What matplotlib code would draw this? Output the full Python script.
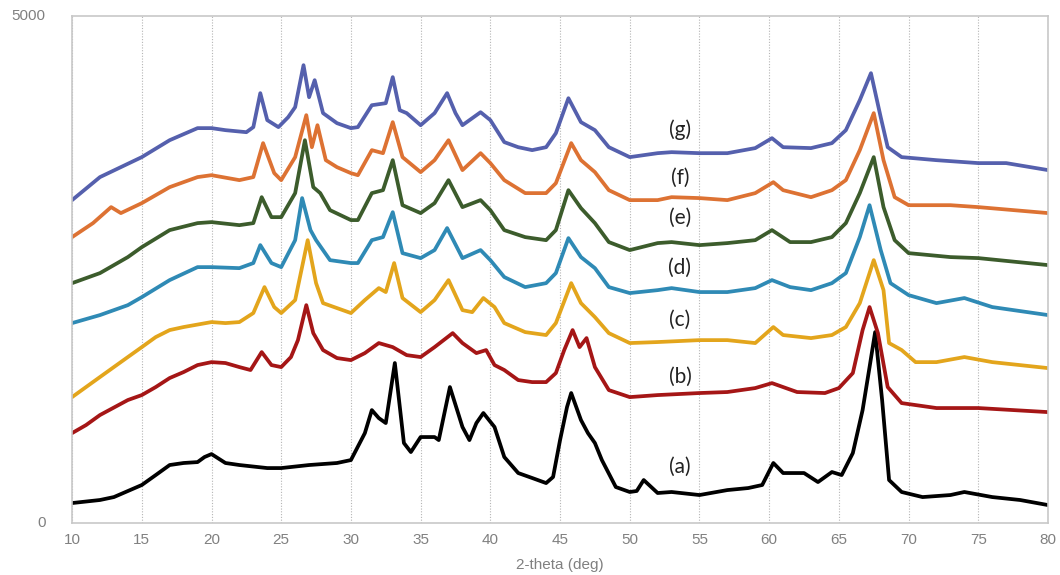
import numpy as np
import matplotlib
matplotlib.use("Agg")
import matplotlib.pyplot as plt

plt.rcParams['font.family'] = ['Liberation Sans', 'DejaVu Sans']

## Values (2-theta in deg, intensity in counts)

x_a = [10, 12, 13, 15, 16, 17, 18, 19, 19.5, 20, 21, 22, 24, 25, 27, 29, 30, 31, 31.5, 32, 32.5, 33.15,
       33.8, 34.3, 35, 36, 36.3, 37.1, 38, 38.5, 39, 39.5, 40.3, 41, 42, 43, 44, 44.5, 45, 45.5, 45.8,
       46.5, 47, 47.5, 48, 49, 50, 50.5, 51, 52, 53, 55, 57, 58.5, 59.5, 60.3, 61, 62.5, 63.5, 64.5,
       65.2, 66, 66.7, 67.2, 67.6, 68.1, 68.6, 69.5, 71, 73, 74, 76, 78, 80]
y_a = [197, 227, 256, 375, 473, 572, 592, 601, 651, 680, 592, 572, 542, 542, 572, 592, 621, 887, 1114,
       1035, 986, 1578, 789, 700, 848, 848, 818, 1341, 947, 818, 986, 1085, 947, 651, 493, 444, 394, 454,
       818, 1144, 1282, 1016, 887, 789, 621, 355, 306, 316, 424, 296, 306, 276, 325, 345, 375, 592, 493,
       493, 404, 503, 473, 690, 1114, 1538, 1883, 1213, 424, 306, 256, 276, 306, 256, 227, 177]

x_b = [10, 11, 12, 14, 15, 16, 17, 18, 19, 20, 21, 22, 22.8, 23.6, 24.3, 25, 25.7, 26.2, 26.8, 27.3, 28,
       29, 30, 31, 32, 33, 34, 35, 36, 37.3, 38, 39, 39.7, 40.3, 41, 42, 43, 44, 44.7, 45.3, 45.9, 46.4,
       46.9, 47.5, 48.5, 50, 52, 55, 57, 59, 60.2, 62, 64, 65, 66, 66.7, 67.2, 67.8, 68.5, 69.5, 72, 75, 80]
y_b = [887, 966, 1065, 1213, 1262, 1341, 1430, 1489, 1558, 1587, 1578, 1538, 1509, 1686, 1558, 1538,
       1637, 1804, 2149, 1873, 1706, 1627, 1607, 1676, 1775, 1735, 1656, 1637, 1735, 1873, 1775, 1676,
       1706, 1558, 1509, 1410, 1390, 1390, 1479, 1706, 1903, 1735, 1824, 1538, 1311, 1242, 1262, 1282,
       1292, 1331, 1380, 1292, 1282, 1331, 1479, 1903, 2130, 1873, 1341, 1183, 1134, 1134, 1094]

x_c = [10, 12, 14, 15, 16, 17, 18, 20, 21, 22, 23, 23.8, 24.5, 25, 26, 26.9, 27.5, 28, 29, 30, 31, 32,
       32.5, 33.1, 33.7, 35, 36, 37, 38, 38.7, 39.5, 40.3, 41, 42.5, 44, 44.7, 45.8, 46.5, 47.5, 48.5, 50,
       52, 55, 57, 59, 60.3, 61, 63, 64.5, 65.5, 66.5, 67.5, 68.2, 68.6, 69.5, 70.5, 72, 74, 76, 80]
y_c = [1242, 1440, 1637, 1735, 1834, 1903, 1933, 1982, 1972, 1982, 2071, 2327, 2130, 2071, 2199, 2790,
       2366, 2169, 2120, 2071, 2199, 2317, 2278, 2564, 2219, 2080, 2199, 2396, 2100, 2080, 2219, 2130,
       1972, 1883, 1854, 1972, 2366, 2169, 2031, 1873, 1775, 1785, 1804, 1804, 1775, 1933, 1854, 1824,
       1854, 1933, 2169, 2593, 2297, 1775, 1706, 1587, 1587, 1637, 1587, 1528]

x_d = [10, 12, 14, 15, 17, 19, 20, 22, 23, 23.5, 24.3, 25, 26, 26.5, 27.1, 27.5, 28.5, 30, 30.5, 31.5,
       32.3, 33, 33.7, 35, 36, 36.9, 38, 39.3, 40, 41, 42.5, 44, 44.7, 45.6, 46.5, 47.5, 48.5, 50, 52, 53,
       55, 57, 59, 60.2, 61.5, 63, 64.5, 65.5, 66.5, 67.2, 68, 68.7, 70, 72, 74, 76, 80]
y_d = [1972, 2051, 2149, 2228, 2396, 2524, 2524, 2514, 2564, 2741, 2564, 2524, 2790, 3205, 2889, 2790,
       2593, 2564, 2564, 2790, 2820, 3066, 2662, 2613, 2692, 2909, 2613, 2692, 2593, 2426, 2327, 2366,
       2465, 2810, 2623, 2514, 2327, 2268, 2297, 2317, 2278, 2278, 2317, 2396, 2327, 2297, 2366, 2465,
       2820, 3135, 2692, 2366, 2248, 2169, 2219, 2130, 2051]

x_e = [10, 12, 14, 15, 17, 19, 20, 22, 23, 23.6, 24.3, 25, 26, 26.7, 27.3, 27.8, 28.5, 30, 30.5, 31.5,
       32.3, 33, 33.7, 35, 36, 37, 38, 39.3, 40, 41, 42.5, 44, 44.7, 45.6, 46.5, 47.5, 48.5, 50, 52, 53,
       55, 57, 59, 60.2, 61.5, 63, 64.5, 65.5, 66.5, 67.5, 68.2, 69, 70, 73, 75, 80]
y_e = [2366, 2465, 2623, 2721, 2889, 2958, 2968, 2938, 2958, 3214, 3017, 3017, 3254, 3776, 3313, 3254,
       3086, 2988, 2988, 3254, 3283, 3579, 3135, 3057, 3155, 3382, 3116, 3185, 3086, 2889, 2820, 2790,
       2889, 3283, 3106, 2958, 2771, 2692, 2761, 2771, 2741, 2761, 2790, 2889, 2771, 2771, 2820, 2958,
       3254, 3609, 3116, 2790, 2662, 2623, 2613, 2544]

x_f = [10, 11.5, 12.8, 13.5, 15, 17, 19, 20, 22, 23, 23.7, 24.5, 25, 26, 26.8, 27.2, 27.6, 28.2, 29, 30,
       30.5, 31.5, 32.3, 33, 33.7, 35, 36, 37, 38, 39.3, 40, 41, 42.5, 44, 44.7, 45.8, 46.5, 47.5, 48.5,
       50, 52, 53, 55, 57, 59, 60.3, 61, 63, 64.5, 65.5, 66.5, 67.5, 68.2, 69, 70, 73, 75, 80]
y_f = [2820, 2958, 3116, 3057, 3155, 3313, 3412, 3431, 3382, 3412, 3747, 3451, 3382, 3609, 4023, 3707,
       3924, 3579, 3510, 3451, 3431, 3678, 3648, 3954, 3609, 3461, 3579, 3776, 3481, 3648, 3550, 3382,
       3254, 3254, 3352, 3747, 3579, 3461, 3283, 3185, 3185, 3214, 3205, 3185, 3254, 3362, 3283, 3214,
       3283, 3382, 3678, 4043, 3579, 3214, 3135, 3135, 3116, 3057]

x_g = [10, 12, 15, 17, 19, 20, 21, 22.5, 23, 23.5, 24, 24.8, 25.5, 26, 26.6, 27, 27.4, 28, 29, 30, 30.5,
       31.5, 32.5, 33, 33.5, 34, 35, 36, 36.9, 37.5, 38, 39.3, 40, 41, 42, 43, 44, 44.7, 45.6, 46.5, 47.5,
       48.5, 50, 52, 53, 55, 57, 59, 60.2, 61, 63, 64.5, 65.5, 66.5, 67.3, 68, 68.5, 69.5, 72, 75, 77, 80]
y_g = [3185, 3412, 3609, 3776, 3895, 3895, 3875, 3855, 3905, 4240, 3974, 3905, 4003, 4102, 4516, 4200,
       4368, 4043, 3944, 3895, 3905, 4121, 4141, 4398, 4072, 4043, 3924, 4043, 4240, 4043, 3924, 4052,
       3974, 3757, 3707, 3678, 3707, 3845, 4190, 3954, 3875, 3707, 3609, 3648, 3658, 3648, 3648, 3698,
       3796, 3707, 3698, 3747, 3875, 4171, 4437, 4003, 3707, 3609, 3579, 3550, 3550, 3481]

labels = ["(a)", "(b)", "(c)", "(d)", "(e)", "(f)", "(g)"]
label_y = [552, 1440, 2002, 2514, 3007, 3402, 3875]
label_x = 53.6

x_ticks = list(range(10, 81, 5))
y_ticks = [0, 5000]

## Drawing

series = [(x_a, y_a, "black"), (x_b, y_b, "#a51616"), (x_c, y_c, "#e3a51c"), (x_d, y_d, "#2f8ab5"),
          (x_e, y_e, "#3c5c2c"), (x_f, y_f, "#dd7233"), (x_g, y_g, "#5560ad")]

fig = plt.figure(figsize=(10.6, 5.75), dpi=100)
ax = fig.add_axes([0.068, 0.0904, 0.9207, 0.8816])

for xs, ys, col in series:
    ax.plot(xs, ys, color=col, linewidth=2.7, solid_joinstyle="round")

for lab, ly in zip(labels, label_y):
    ax.text(label_x, ly, lab, fontsize=15, family="Lato", color="#222222", ha="center", va="center")

ax.set_xlim(10, 80)
ax.set_ylim(0, 5000)
ax.set_xticks(x_ticks)
ax.set_yticks(y_ticks)
ax.tick_params(length=0, labelsize=11, colors="#808080")
ax.tick_params(axis="x", pad=7)
ax.tick_params(axis="y", pad=19)
ax.set_xlabel("2-theta (deg)", fontsize=11, color="#808080", labelpad=8)
for t in ax.get_yticklabels():
    t.set_verticalalignment("center")

ax.grid(axis="x", linestyle=(0, (1, 1.5)), color="#b5b5b5", linewidth=0.8)
for sp in ax.spines.values():
    sp.set_color("#c8c8c8")
    sp.set_linewidth(1.2)

plt.savefig("out.png", dpi=100)
